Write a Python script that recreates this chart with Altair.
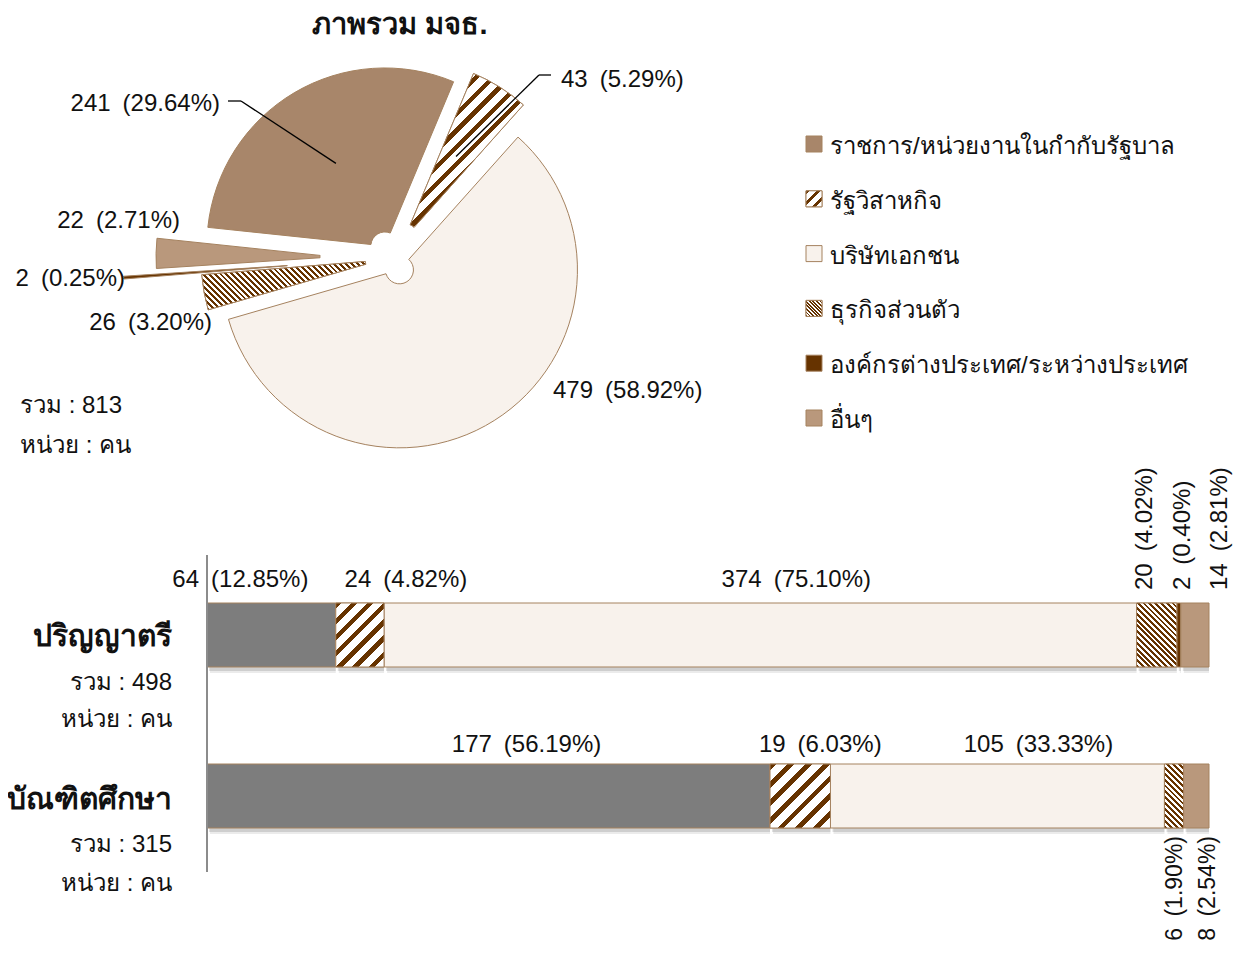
import math
import altair as alt
import pandas as pd

# ---------------- data ----------------
CATEGORIES = ["ราชการ/หน่วยงานในกำกับรัฐบาล", "รัฐวิสาหกิจ", "บริษัทเอกชน",
              "ธุรกิจส่วนตัว", "องค์กรต่างประเทศ/ระหว่างประเทศ", "อื่นๆ"]
OVERALL = [241, 43, 479, 26, 2, 22]
LEVELS = ["ปริญญาตรี", "บัณฑิตศึกษา"]
BACHELOR = [64, 24, 374, 20, 2, 14]
GRADUATE = [177, 19, 105, 6, 0, 8]
TITLE = "ภาพรวม มจธ."
TOTAL_WORD = "รวม"
UNIT_TEXT = "หน่วย : คน"

# ---------------- style ----------------
W, H = 1227, 941
FONT = "Liberation Sans"
BROWN = "#663300"
EDGE = "#a5825f"
TXT = "#111111"
PIE_FILL = ["#a8866a", "#c9ab92", "#f8f2ec", "#b08b68", BROWN, "#b9987c"]
BAR_FILL = ["#7d7d7d", "#c9ab92", "#f8f2ec", "#b08b68", BROWN, "#b9987c"]
STRIPES = {1: ("/", 12.0, 0.38), 3: ("\\", 4.2, 0.5)}  # category index -> pattern
LBL_SIZE = 24
GAP = "\u2002"

PIE_CX, PIE_CY, PIE_R, PIE_R0 = 384, 250, 178, 14
PIE_START_DEG = 276
EXPLODE = [14, 24, 14, 13, 91, 58]
PIE_LABEL_POS = [(212, 96, "right"), (553, 72, "left"), (545, 383, "left"),
                 (204, 315, "right"), (117, 271, "right"), (172, 213, "right")]
LEADER_ELBOWS = {0: [(220, 93), (233, 93)], 1: [(543, 67), (531, 67)]}
LEADER_R = 96

LEG_X, LEG_TX, LEG_Y0, LEG_STEP, LEG_SIZE = 806, 822, 136, 54.8, 16

X0, X1 = 199, 1201
BAR_RANGE = [595, 820]
BAR_PAD = 0.6025
BAR_H = 64
HLABEL_Y = [572, 737]
HSHIFT = [[-31, 46, 36], [38, 20, 41]]
VLABEL_Y = [582, 828]
VLABEL_SIZE = [24, 23]
VLABEL_ALIGN = ["left", "right"]
VLABEL_END = [11, -1]
VLABEL_STEP = [37.5, 33]
ROWNAME_Y = [629, 792]
ROWTOT_Y = [675, 837]
ROWUNIT_Y = [712, 876]
ROWTXT_X = 164


def stripes(w, h, direction, period, duty, color=BROWN, bg="#ffffff"):
    n = max(1, round((w + h) / (period * math.sqrt(2))))
    k = (w + h) / (w * w + h * h)
    if direction == "/":
        x1, y1, x2, y2 = 0, 0, k * w, k * h
    else:
        x1, y1, x2, y2 = 0, 1, k * w, 1 - k * h
    stops = []
    for j in range(n):
        a, b, c = j / n, (j + duty) / n, (j + 1) / n
        stops += [{"offset": a, "color": color}, {"offset": b, "color": color},
                  {"offset": b, "color": bg}, {"offset": c, "color": bg}]
    return {"gradient": "linear", "x1": x1, "y1": y1, "x2": x2, "y2": y2, "stops": stops}


def arc_bbox(cx, cy, t0, t1, r0, r1):
    xs, ys = [], []
    for j in range(81):
        t = t0 + (t1 - t0) * j / 80
        for r in (r0, r1):
            xs.append(cx + r * math.sin(t))
            ys.append(cy - r * math.cos(t))
    return max(xs) - min(xs), max(ys) - min(ys)


# ---------------- pie table ----------------
tot = sum(OVERALL)
pie_rows = []
acc = math.radians(PIE_START_DEG)
for i, (c, v) in enumerate(zip(CATEGORIES, OVERALL)):
    span = 2 * math.pi * v / tot
    t0, t1 = acc, acc + span
    acc = t1
    mid = (t0 + t1) / 2
    ux, uy = math.sin(mid), -math.cos(mid)
    cx, cy = PIE_CX + EXPLODE[i] * ux, PIE_CY + EXPLODE[i] * uy
    lx, ly, la = PIE_LABEL_POS[i]
    pie_rows.append(dict(cat=c, idx=i, value=v, t0=t0, t1=t1, cx=cx, cy=cy,
                         ux=ux, uy=uy, label=f"{v}{GAP}({100 * v / tot:.2f}%)",
                         lx=lx, ly=ly, la=la))
pie = pd.DataFrame(pie_rows)

# leader lines
seg = []
for i, pts in LEADER_ELBOWS.items():
    r = pie.iloc[i]
    inner = (r.cx + LEADER_R * r.ux, r.cy + LEADER_R * r.uy)
    path = pts + [inner]
    for a, b in zip(path[:-1], path[1:]):
        seg.append(dict(x=a[0], y=a[1], x2=b[0], y2=b[1]))
leaders = pd.DataFrame(seg)

# ---------------- bar table ----------------
px_per = (X1 - X0) / 100
bar_rows = []
for li, (lvl, vals) in enumerate(zip(LEVELS, [BACHELOR, GRADUATE])):
    s = sum(vals)
    acc = 0.0
    small = [k for k, v in enumerate(vals) if 0 < 100 * v / s < 4.5]
    big = [k for k, v in enumerate(vals) if 100 * v / s >= 4.5]
    for k, (c, v) in enumerate(zip(CATEGORIES, vals)):
        p = 100 * v / s
        p0, p1 = acc, acc + p
        acc = p1
        if v == 0:
            continue
        row = dict(level=lvl, li=li, cat=c, idx=k, value=v, p0=p0, p1=p1,
                   label=f"{v}{GAP}({p:.2f}%)", kind="h" if k in big else "v")
        if k in big:
            row["lx"] = (p0 + p1) / 2 + HSHIFT[li][big.index(k)] / px_per
        else:
            j = small.index(k)
            xpx = X1 + VLABEL_END[li] - (len(small) - 1 - j) * VLABEL_STEP[li]
            row["lx"] = (xpx - X0) / px_per
        bar_rows.append(row)
bars = pd.DataFrame(bar_rows)

legend = pd.DataFrame({"cat": CATEGORIES, "idx": range(len(CATEGORIES))})
legend["sy"] = LEG_Y0 + LEG_STEP * legend["idx"]
legend["ty"] = legend["sy"] + 3

# ---------------- charts ----------------
xs = alt.Scale(domain=[0, 100], range=[X0, X1])
ys = alt.Scale(domain=LEVELS, range=BAR_RANGE, paddingInner=BAR_PAD, paddingOuter=0)

layers = []

pie_enc = dict(
    x=alt.X("cx:Q", scale=None), y=alt.Y("cy:Q", scale=None),
    theta=alt.Theta("t0:Q", scale=None, stack=False), theta2=alt.Theta2("t1:Q"),
    radius=alt.value(PIE_R), radius2=alt.value(PIE_R0))

layers.append(alt.Chart(pie).mark_arc(stroke=EDGE, strokeWidth=1).encode(
    color=alt.Color("cat:N", scale=alt.Scale(domain=CATEGORIES, range=PIE_FILL), legend=None),
    **pie_enc))
for i, (d, per, duty) in STRIPES.items():
    r = pie.iloc[i]
    w, h = arc_bbox(r.cx, r.cy, r.t0, r.t1, PIE_R0, PIE_R)
    layers.append(alt.Chart(pie[pie.idx == i]).mark_arc(
        fill=stripes(w, h, d, per, duty), stroke=EDGE, strokeWidth=1).encode(**pie_enc))

layers.append(alt.Chart(leaders).mark_rule(color="#000000", strokeWidth=1.3).encode(
    x=alt.X("x:Q", scale=None), y=alt.Y("y:Q", scale=None),
    x2=alt.X2("x2:Q"), y2=alt.Y2("y2:Q")))

for al in ["left", "right"]:
    layers.append(alt.Chart(pie[pie.la == al]).mark_text(
        align=al, baseline="middle", font=FONT, fontSize=LBL_SIZE, color=TXT).encode(
        x=alt.X("lx:Q", scale=None), y=alt.Y("ly:Q", scale=None), text="label:N"))

# legend
leg_enc = dict(x=alt.value(LEG_X), y=alt.Y("sy:Q", scale=None))
layers.append(alt.Chart(legend).mark_square(size=LEG_SIZE ** 2, stroke=EDGE, strokeWidth=1, opacity=1).encode(
    color=alt.Color("cat:N", scale=alt.Scale(domain=CATEGORIES, range=PIE_FILL), legend=None),
    **leg_enc))
for i, (d, per, duty) in STRIPES.items():
    layers.append(alt.Chart(legend[legend.idx == i]).mark_square(
        size=LEG_SIZE ** 2, fill=stripes(LEG_SIZE, LEG_SIZE, d, per * 0.6, duty),
        stroke=EDGE, strokeWidth=1, opacity=1).encode(**leg_enc))
layers.append(alt.Chart(legend).mark_text(
    align="left", baseline="middle", font=FONT, fontSize=24, color=TXT).encode(
    x=alt.value(LEG_TX), y=alt.Y("ty:Q", scale=None), text="cat:N"))

# bars
bar_enc = dict(x=alt.X("p0:Q", scale=xs, axis=None), x2=alt.X2("p1:Q"),
               y=alt.Y("level:N", scale=ys, axis=None))
# soft shadow under the bars
layers.append(alt.Chart(bars).mark_bar(color="#000000", opacity=0.12, xOffset=2, yOffset=4).encode(**bar_enc))
layers.append(alt.Chart(bars).mark_bar(color="#000000", opacity=0.08, xOffset=3, yOffset=6).encode(**bar_enc))
layers.append(alt.Chart(bars).mark_bar(stroke=EDGE, strokeWidth=1).encode(
    color=alt.Color("cat:N", scale=alt.Scale(domain=CATEGORIES, range=BAR_FILL), legend=None),
    **bar_enc))
for _, r in bars[bars.idx.isin(list(STRIPES))].iterrows():
    d, per, duty = STRIPES[r.idx]
    w = (r.p1 - r.p0) * px_per
    layers.append(alt.Chart(bars[(bars.li == r.li) & (bars.idx == r.idx)]).mark_bar(
        fill=stripes(w, BAR_H, d, per, duty), stroke=EDGE, strokeWidth=1).encode(**bar_enc))

# axis line
layers.append(alt.Chart(pd.DataFrame({"v": [0]})).mark_rule(color="#8c8c8c", strokeWidth=2).encode(
    x=alt.X("v:Q", scale=xs, axis=None), y=alt.value(547), y2=alt.value(864)))

# bar labels
for li in range(len(LEVELS)):
    sub = bars[bars.li == li]
    layers.append(alt.Chart(sub[sub.kind == "h"]).mark_text(
        align="center", baseline="middle", font=FONT, fontSize=LBL_SIZE, color=TXT).encode(
        x=alt.X("lx:Q", scale=xs, axis=None), y=alt.value(HLABEL_Y[li]), text="label:N"))
    layers.append(alt.Chart(sub[sub.kind == "v"]).mark_text(
        align=VLABEL_ALIGN[li], baseline="middle", angle=270, font=FONT,
        fontSize=VLABEL_SIZE[li], color=TXT).encode(
        x=alt.X("lx:Q", scale=xs, axis=None), y=alt.value(VLABEL_Y[li]), text="label:N"))

# free texts
texts = [
    dict(t=TITLE, x=392, y=17, a="center", s=29, w="bold"),
    dict(t=f"{TOTAL_WORD} : {tot}", x=12, y=398, a="left", s=24, w="normal"),
    dict(t=UNIT_TEXT, x=12, y=438, a="left", s=24, w="normal"),
]
for li, (lvl, vals) in enumerate(zip(LEVELS, [BACHELOR, GRADUATE])):
    texts += [
        dict(t=lvl, x=ROWTXT_X, y=ROWNAME_Y[li], a="right", s=30, w="bold"),
        dict(t=f"{TOTAL_WORD} : {sum(vals)}", x=ROWTXT_X, y=ROWTOT_Y[li], a="right", s=24, w="normal"),
        dict(t=UNIT_TEXT, x=ROWTXT_X, y=ROWUNIT_Y[li], a="right", s=24, w="normal"),
    ]
tdf = pd.DataFrame(texts)
for (a, s, w), sub in tdf.groupby(["a", "s", "w"]):
    layers.append(alt.Chart(sub).mark_text(
        align=a, baseline="middle", font=FONT, fontSize=int(s), fontWeight=w, color=TXT).encode(
        x=alt.X("x:Q", scale=None), y=alt.Y("y:Q", scale=None), text="t:N"))

chart = alt.layer(*layers).properties(
    width=W, height=H, padding=0, autosize=alt.AutoSizeParams(type="none"),
    background="#ffffff",
).resolve_scale(color="independent").configure_view(stroke=None)

chart.save("out.html", embed_options={"renderer": "svg", "actions": False})
